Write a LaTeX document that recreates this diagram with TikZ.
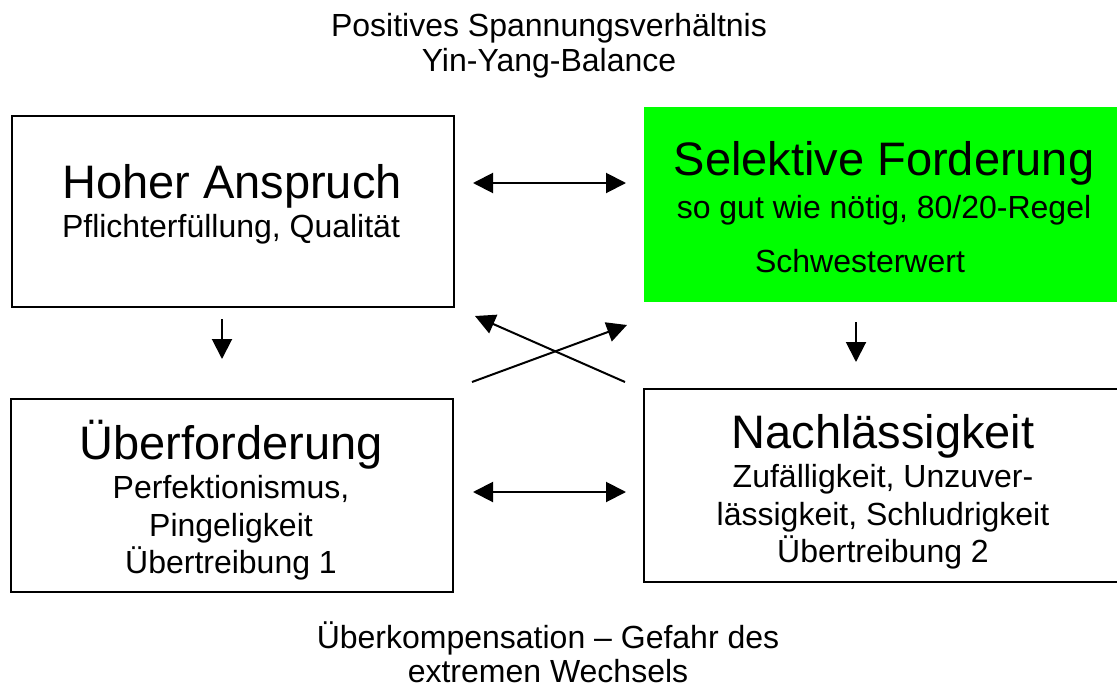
\documentclass[tikz,border=0pt]{standalone}
\usepackage{fontspec}
\setmainfont{Liberation Sans}
\usetikzlibrary{arrows.meta}
\definecolor{brightgreen}{RGB}{0,255,0}
\tikzset{
  box/.style={draw=black, line width=2pt, rectangle, inner sep=0pt},
  greenbox/.style={fill=brightgreen, draw=none, rectangle, inner sep=0pt},
  title/.style={anchor=base, inner sep=0pt, font=\fontsize{47}{52}\selectfont},
  sub/.style={anchor=base, inner sep=0pt, font=\fontsize{32}{36}\selectfont},
  arr/.style={line width=2pt, -{Triangle[length=20pt,width=20pt]}},
  darr/.style={line width=2pt, {Triangle[length=20pt,width=20pt]}-{Triangle[length=20pt,width=20pt]}}
}
\begin{document}
\begin{tikzpicture}[x=1pt,y=-1pt]
\useasboundingbox (0,0) rectangle (1117,688);
\clip (0,0) rectangle (1117,688);
\fill[white] (0,0) rectangle (1117,688);

% boxes
\node[box, minimum width=442pt, minimum height=191pt] (A) at (233,211.5) {};
\node[greenbox, minimum width=476pt, minimum height=195pt] (B) at (882,204.5) {};
\node[box, minimum width=442pt, minimum height=193pt] (C) at (232,495.5) {};
\node[box, minimum width=476pt, minimum height=193pt] (D) at (882,485.5) {};

% texts
\node[sub] (top1) at (549,36) {Positives Spannungsverhältnis};
\node[sub] (top2) at (549,71) {Yin-Yang-Balance};

\node[title] (At) at (232,198) {Hoher Anspruch};
\node[sub] (As) at (231,237) {Pflichterfüllung, Qualität};

\node[title] (Bt) at (884,175) {Selektive Forderung};
\node[sub] (Bs) at (884,218) {so gut wie nötig, 80/20-Regel};
\node[sub] (Bs2) at (860,272) {Schwesterwert};

\node[title] (Ct) at (231,459) {Überforderung};
\node[sub] (Cs1) at (231,498) {Perfektionismus,};
\node[sub] (Cs2) at (231,536) {Pingeligkeit};
\node[sub] (Cs3) at (231,573) {Übertreibung 1};

\node[title] (Dt) at (883,448) {Nachlässigkeit};
\node[sub] (Ds1) at (883,487) {Zufälligkeit, Unzuver-};
\node[sub] (Ds2) at (883,525) {lässigkeit, Schludrigkeit};
\node[sub] (Ds3) at (883,562) {Übertreibung 2};

\node[sub] (bot1) at (548,648) {Überkompensation – Gefahr des};
\node[sub] (bot2) at (548,682) {extremen Wechsels};

% connector end points
\coordinate (h1l) at (473,183);
\coordinate (h1r) at (626,183);
\coordinate (h2l) at (473,492);
\coordinate (h2r) at (626,492);
\coordinate (x1s) at (472,382);
\coordinate (x1e) at (627,325);
\coordinate (x2s) at (625,382);
\coordinate (x2e) at (475,316);
\coordinate (d1s) at (222,319);
\coordinate (d1e) at (222,359);
\coordinate (d2s) at (856,322);
\coordinate (d2e) at (856,362);

% connectors
\draw[darr] (h1l) -- (h1r);
\draw[darr] (h2l) -- (h2r);
\draw[arr] (x1s) -- (x1e);
\draw[arr] (x2s) -- (x2e);
\draw[arr] (d1s) -- (d1e);
\draw[arr] (d2s) -- (d2e);
\end{tikzpicture}
\end{document}
